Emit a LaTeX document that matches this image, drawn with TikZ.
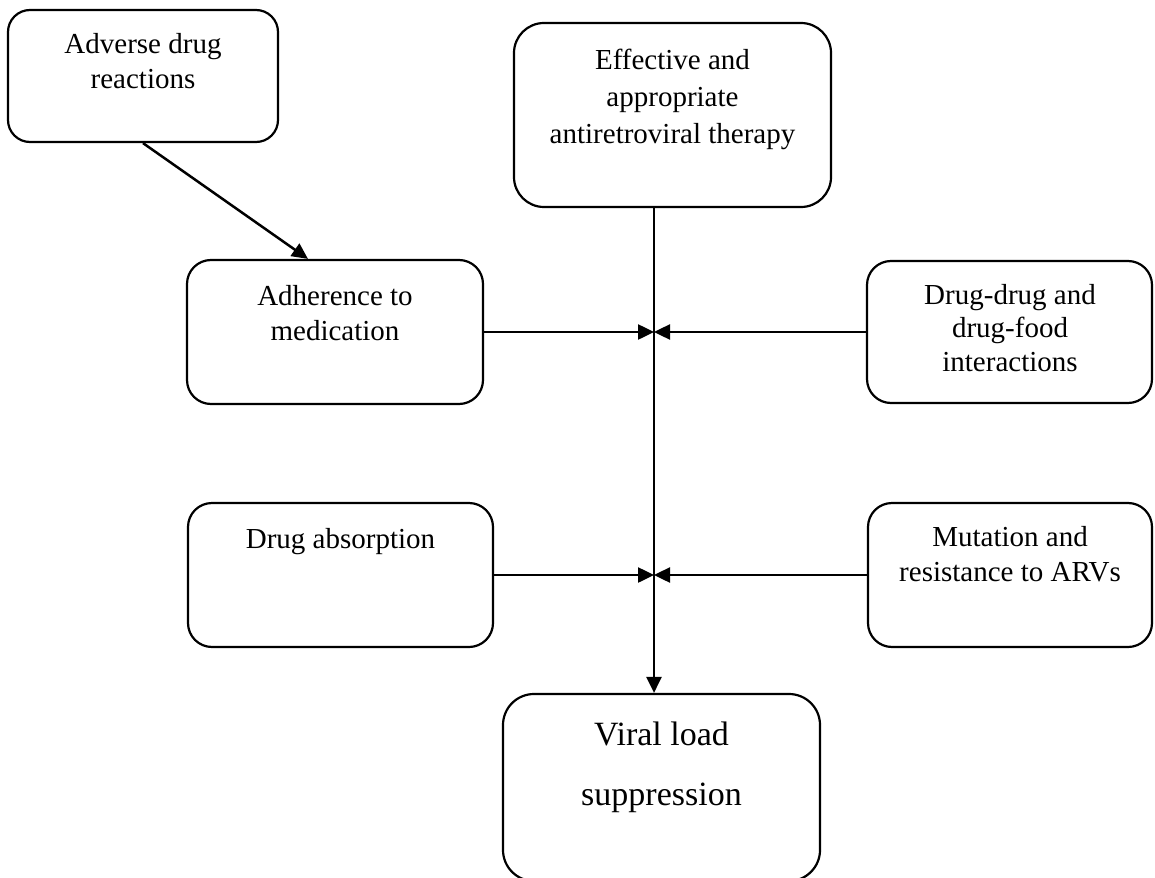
\documentclass[tikz,border=0pt]{standalone}
\usepackage{fontspec}
\setmainfont{Liberation Serif}
\usetikzlibrary{arrows.meta}
\tikzset{
  box/.style={draw, line width=2.2pt, inner sep=0pt, fill=none},
  txt/.style={anchor=north, inner sep=0pt, font=\fontsize{29}{35}\selectfont},
  arr/.style={line width=2.5pt, -{Triangle[length=16pt,width=15pt]}}
}
\newcommand{\lns}[1]{\begin{tabular}{@{}c@{}}#1\end{tabular}}
\begin{document}
\begin{tikzpicture}[x=1pt,y=-1pt]
\useasboundingbox (0,0) rectangle (1155,877);
% boxes
\node[box, minimum width=270pt, minimum height=132pt, rounded corners=22pt] (adv) at (143,76) {};
\node[box, minimum width=317pt, minimum height=184pt, rounded corners=30pt] (eff) at (672.5,115) {};
\node[box, minimum width=296pt, minimum height=144pt, rounded corners=24pt] (adh) at (335,332) {};
\node[box, minimum width=285pt, minimum height=142pt, rounded corners=24pt] (ddi) at (1009.5,332) {};
\node[box, minimum width=305pt, minimum height=144pt, rounded corners=24pt] (abs) at (340.5,575) {};
\node[box, minimum width=284pt, minimum height=144pt, rounded corners=24pt] (mut) at (1010,575) {};
\node[box, minimum width=317pt, minimum height=187pt, rounded corners=31pt] (vir) at (661.5,787.5) {};
% texts
\node[txt] (tadv) at (143,28.8) {\lns{Adverse drug\\reactions}};
\node[txt, font=\fontsize{29}{37}\selectfont] (teff) at (672.5,43.4) {\lns{Effective and\\appropriate\\antiretroviral therapy}};
\node[txt] (tadh) at (335,280.5) {\lns{Adherence to\\medication}};
\node[txt, font=\fontsize{29}{33.5}\selectfont] (tddi) at (1010,280.5) {\lns{Drug-drug and\\drug-food\\interactions}};
\node[txt] (tabs) at (340.5,523.5) {\lns{Drug absorption}};
\node[txt] (tmut) at (1010,521.5) {\lns{Mutation and\\resistance to ARVs}};
\node[txt, font=\fontsize{34}{60}\selectfont] (tvir) at (661.5,703) {\lns{Viral load\\suppression}};
% connectors
\coordinate (vx) at (654,0);
\draw[arr] (eff.south -| vx) -- (vx |- vir.north);
\draw[arr] (adv.south) -- ([xshift=-27pt]adh.north);
\draw[arr] (adh.east) -- (adh.east -| vx);
\draw[arr] (ddi.west) -- (ddi.west -| vx);
\draw[arr] (abs.east) -- (abs.east -| vx);
\draw[arr] (mut.west) -- (mut.west -| vx);
\end{tikzpicture}
\end{document}
